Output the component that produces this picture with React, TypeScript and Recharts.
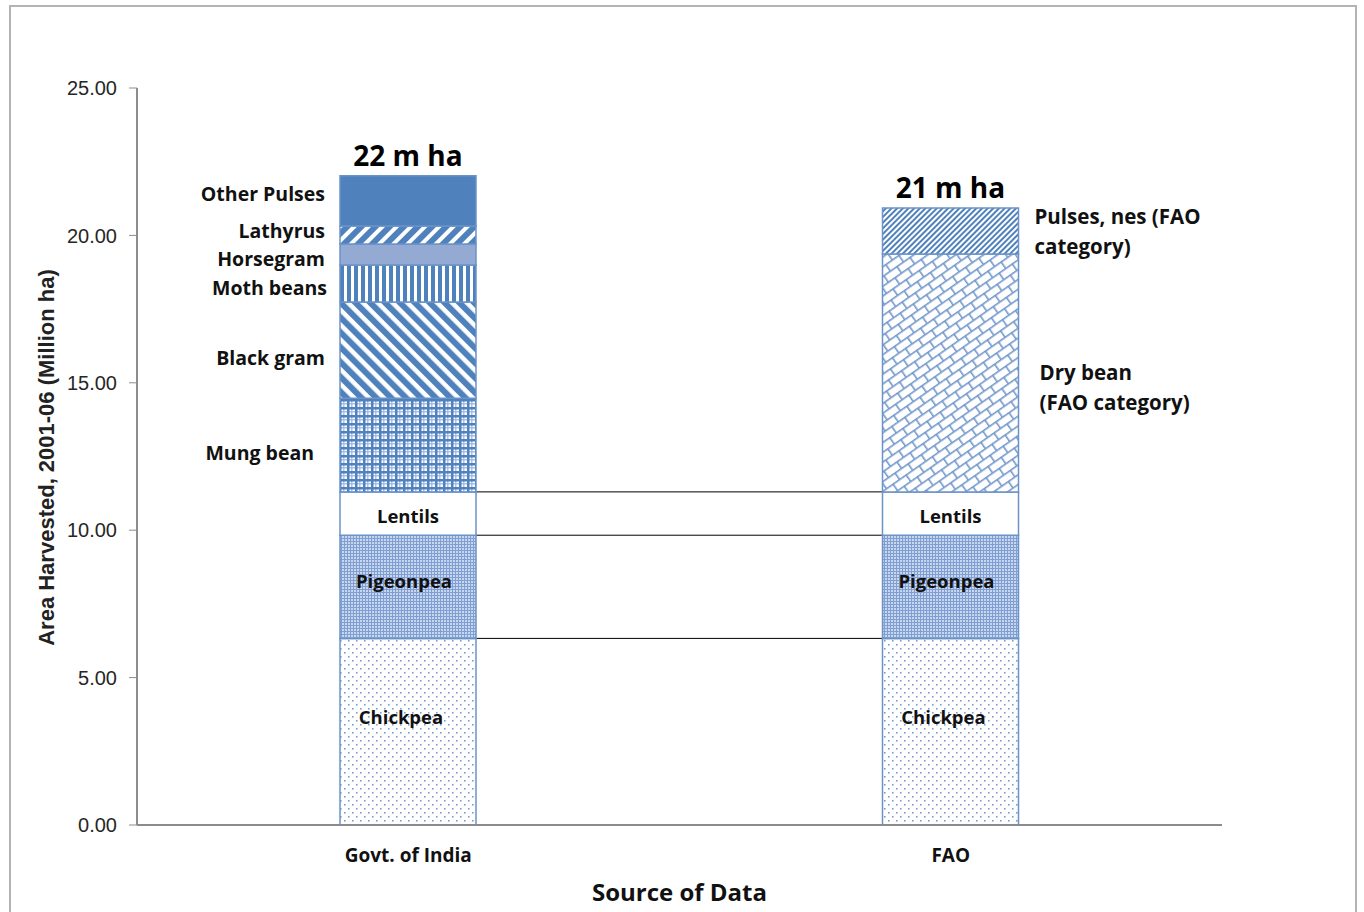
import React from "react";
import { BarChart, Bar, XAxis, YAxis, ReferenceLine } from "recharts";

// categories
const sources = ["Govt. of India", "FAO"];

// area harvested, million ha (2001-06 average)
const chickpea = [6.33, 6.33];
const pigeonpea = [3.5, 3.5];
const lentils = [1.47, 1.47];
const mungBean = [3.18, 0];
const blackGram = [3.26, 0];
const mothBeans = [1.26, 0];
const horsegram = [0.71, 0];
const lathyrus = [0.61, 0];
const otherPulses = [1.7, 0];
const dryBean = [0, 8.07];
const pulsesNes = [0, 1.56];

const yTicks = [0, 5, 10, 15, 20, 25];

const data = sources.map((source, i) => ({
  source,
  chickpea: chickpea[i],
  pigeonpea: pigeonpea[i],
  lentils: lentils[i],
  mungBean: mungBean[i],
  blackGram: blackGram[i],
  mothBeans: mothBeans[i],
  horsegram: horsegram[i],
  lathyrus: lathyrus[i],
  otherPulses: otherPulses[i],
  dryBean: dryBean[i],
  pulsesNes: pulsesNes[i],
}));

const totals = data.map(
  (d) =>
    d.chickpea + d.pigeonpea + d.lentils + d.mungBean + d.blackGram +
    d.mothBeans + d.horsegram + d.lathyrus + d.otherPulses + d.dryBean + d.pulsesNes
);

// reference lines joining the common crops
const joins = [
  chickpea[0],
  chickpea[0] + pigeonpea[0],
  chickpea[0] + pigeonpea[0] + lentils[0],
];

const BLUE = "#4f81bd";
const EDGE = "#6b93c8";
const CAL = "'Open Sans', 'Noto Sans', sans-serif";
const ARIAL = "'Liberation Sans', Arial, sans-serif";

type Side = "left" | "inside" | "right";
const series: { key: string; lines: string[]; fill: string; side: Side; dx: number; dy: number; total?: boolean }[] = [
  { key: "chickpea", lines: ["Chickpea"], fill: "url(#pChickpea)", side: "inside", dx: -7, dy: -15 },
  { key: "pigeonpea", lines: ["Pigeonpea"], fill: "url(#pPigeon)", side: "inside", dx: -4, dy: -6 },
  { key: "lentils", lines: ["Lentils"], fill: "#ffffff", side: "inside", dx: 0, dy: 2 },
  { key: "mungBean", lines: ["Mung bean"], fill: "url(#pMung)", side: "left", dx: -26, dy: 7 },
  { key: "blackGram", lines: ["Black gram"], fill: "url(#pBlack)", side: "left", dx: -15, dy: 7 },
  { key: "mothBeans", lines: ["Moth beans"], fill: "url(#pMoth)", side: "left", dx: -13, dy: 4 },
  { key: "horsegram", lines: ["Horsegram"], fill: "#94aad3", side: "left", dx: -15, dy: 4 },
  { key: "lathyrus", lines: ["Lathyrus"], fill: "url(#pLathyrus)", side: "left", dx: -15, dy: -4 },
  { key: "otherPulses", lines: ["Other Pulses"], fill: BLUE, side: "left", dx: -15, dy: -7, total: true },
  { key: "dryBean", lines: ["Dry bean", "(FAO category)"], fill: "url(#pDry)", side: "right", dx: 21, dy: -1 },
  { key: "pulsesNes", lines: ["Pulses, nes (FAO", "category)"], fill: "url(#pNes)", side: "right", dx: 16, dy: -15, total: true },
];

const labelSize: Record<Side, number> = { inside: 18.5, left: 19.5, right: 20.5 };

function segLabel(p: any, s: (typeof series)[number]) {
  const vb = p.viewBox || p;
  const x = Number(vb.x);
  const w = Number(vb.width);
  const h = Math.abs(Number(vb.height));
  const top = Math.min(Number(vb.y), Number(vb.y) + Number(vb.height));
  if (!h || !(h > 0)) return <g />;
  const cy = top + h / 2 + s.dy;
  let tx = x + w / 2 + s.dx;
  let anchor: "start" | "middle" | "end" = "middle";
  if (s.side === "left") {
    tx = x + s.dx;
    anchor = "end";
  } else if (s.side === "right") {
    tx = x + w + s.dx;
    anchor = "start";
  }
  // the top segment of each stack is only non-zero in one category
  const idx = data.findIndex((d: any) => d[s.key] > 0);
  return (
    <g>
      {s.lines.map((t, i) => (
        <text
          key={i}
          x={tx}
          y={cy + i * 30}
          textAnchor={anchor}
          dominantBaseline="central"
          fontFamily={CAL}
          fontWeight={700}
          fontSize={labelSize[s.side]}
          fill="#111"
        >
          {t}
        </text>
      ))}
      {s.total && (
        <text
          x={x + w / 2}
          y={top - 21}
          textAnchor="middle"
          dominantBaseline="central"
          fontFamily={CAL}
          fontWeight={700}
          fontSize={28}
          fill="#000"
        >
          {`${Math.round(totals[idx])} m ha`}
        </text>
      )}
    </g>
  );
}

function YTitle(p: any) {
  const vb = p.viewBox || {};
  const cx = vb.x + 25;
  const cy = vb.y + vb.height / 2 + 1;
  return (
    <text
      x={cx}
      y={cy}
      transform={`rotate(-90 ${cx} ${cy})`}
      textAnchor="middle"
      dominantBaseline="central"
      fontFamily={ARIAL}
      fontWeight={700}
      fontSize={22}
      fill="#222"
    >
      Area Harvested, 2001-06 (Million ha)
    </text>
  );
}

export default function App() {
  return (
    <div
      style={{
        position: "absolute",
        left: 9,
        top: 5,
        width: 1344,
        height: 910,
        border: "2px solid #b4b4b4",
        borderBottom: "none",
        background: "#fff",
      }}
    >
      <BarChart
        width={1344}
        height={905}
        data={data}
        margin={{ top: 81, right: 133, bottom: 0, left: 10 }}
        barSize={136}
      >
        <defs>
          <pattern id="pChickpea" width="8" height="8" patternUnits="userSpaceOnUse">
            <rect width="8" height="8" fill="#fff" />
            <rect x="1" y="1" width="1.6" height="1.6" fill="#7b9ed3" />
            <rect x="5" y="5" width="1.6" height="1.6" fill="#7b9ed3" />
          </pattern>
          <pattern id="pPigeon" width="3" height="3" patternUnits="userSpaceOnUse">
            <rect width="3" height="3" fill="#c9d7ee" />
            <rect width="3" height="1" fill="#7f9fd2" />
            <rect width="1" height="3" fill="#7f9fd2" />
          </pattern>
          <pattern id="pMung" width="8" height="8" patternUnits="userSpaceOnUse">
            <rect width="8" height="8" fill="#fff" />
            <rect x="4" width="1.5" height="8" fill="#a9c0e4" />
            <rect y="4" width="8" height="1.5" fill="#a9c0e4" />
            <rect width="2.5" height="8" fill={BLUE} />
            <rect width="8" height="2.5" fill={BLUE} />
          </pattern>
          <pattern id="pBlack" width="10.5" height="10" patternUnits="userSpaceOnUse" patternTransform="rotate(-45)">
            <rect width="10.5" height="10" fill="#fff" />
            <rect width="6" height="10" fill={BLUE} />
          </pattern>
          <pattern id="pMoth" width="7" height="10" patternUnits="userSpaceOnUse">
            <rect width="7" height="10" fill="#fff" />
            <rect width="4" height="10" fill={BLUE} />
          </pattern>
          <pattern id="pLathyrus" width="10" height="10" patternUnits="userSpaceOnUse" patternTransform="rotate(45)">
            <rect width="10" height="10" fill="#fff" />
            <rect width="6" height="10" fill={BLUE} />
          </pattern>
          <pattern id="pNes" width="4" height="10" patternUnits="userSpaceOnUse" patternTransform="rotate(45)">
            <rect width="4" height="10" fill="#fff" />
            <rect width="2" height="10" fill={BLUE} />
          </pattern>
          <pattern id="pDry" width="16" height="16" patternUnits="userSpaceOnUse" patternTransform="rotate(-35)">
            <rect width="16" height="16" fill="#fff" />
            <rect y="0" width="16" height="1.6" fill="#7398cd" />
            <rect y="8" width="16" height="1.6" fill="#7398cd" />
            <rect x="0" y="0" width="1.6" height="8" fill="#7398cd" />
            <rect x="8" y="8" width="1.6" height="8" fill="#7398cd" />
          </pattern>
        </defs>
        {joins.map((y, i) => (
          <ReferenceLine
            key={i}
            segment={[
              { x: sources[0], y },
              { x: sources[1], y },
            ]}
            stroke="#000"
            strokeWidth={1}
            zIndex={-10}
          />
        ))}
        <XAxis
          dataKey="source"
          height={87}
          tickLine={false}
          tickSize={0}
          tickMargin={24}
          axisLine={{ stroke: "#8c8c8c", strokeWidth: 2 }}
          tick={{ fontFamily: CAL, fontWeight: 700, fontSize: 19, fill: "#111" }}
          label={{
            value: "Source of Data",
            position: "insideBottom",
            offset: 11,
            style: { fontFamily: CAL, fontWeight: 700, fontSize: 24, fill: "#111" },
          }}
        />
        <YAxis
          width={116}
          domain={[0, 25]}
          ticks={yTicks}
          interval={0}
          tickFormatter={(v: number) => v.toFixed(2)}
          tickSize={8}
          tickMargin={12}
          tickLine={{ stroke: "#8c8c8c" }}
          axisLine={{ stroke: "#8c8c8c", strokeWidth: 2 }}
          tick={{ fontFamily: ARIAL, fontSize: 20, fill: "#262626" }}
          label={<YTitle />}
        />
        {series.map((s) => (
          <Bar
            key={s.key}
            dataKey={s.key}
            stackId="a"
            fill={s.fill}
            stroke={EDGE}
            strokeWidth={1.5}
            isAnimationActive={false}
            label={(p: any) => segLabel(p, s)}
          />
        ))}
      </BarChart>
    </div>
  );
}
